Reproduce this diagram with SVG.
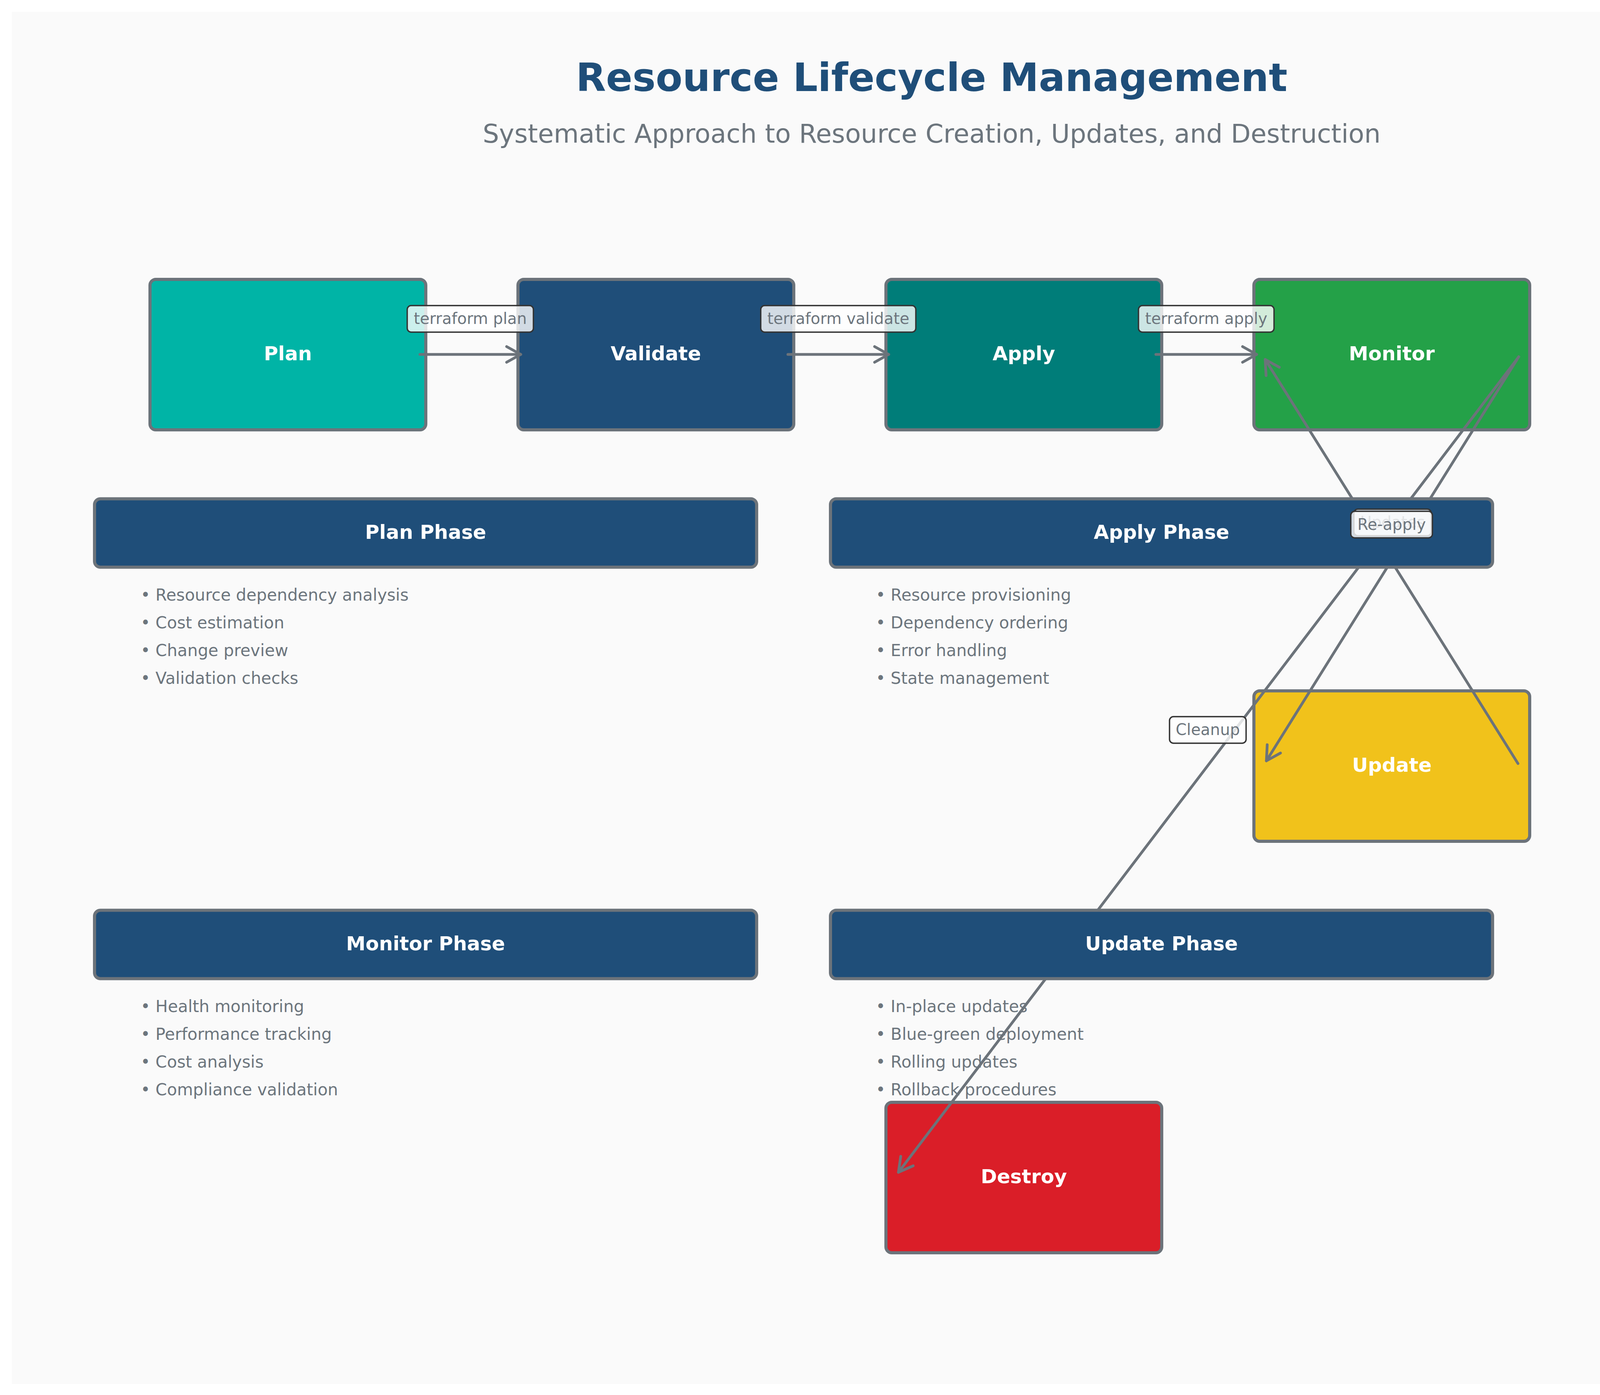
<svg xmlns="http://www.w3.org/2000/svg" width="4770" height="3570" viewBox="0 0 4770 3570">
<style>
text{font-family:"DejaVu Sans","Liberation Sans",sans-serif}
.title{font-size:100px;font-weight:bold;fill:#1f4e79;text-anchor:middle}
.sub{font-size:66px;fill:#6c757d;text-anchor:middle}
.node rect{stroke:#6c737a;stroke-width:8}
.nlabel{font-size:50px;font-weight:bold;fill:#ffffff;text-anchor:middle}
.phase rect{fill:#1f4e79;stroke:#6c737a;stroke-width:8}
.bullet{font-size:42px;fill:#6c757d}
.edge{fill:none;stroke:#6c737a;stroke-width:7;stroke-linecap:round}
.lbox{fill:#ffffff;fill-opacity:0.8;stroke:#333333;stroke-width:3.5}
.ltext{font-size:40px;fill:#6c757d;text-anchor:middle}
.brand{font-size:50px;font-weight:bold;fill:#1f4e79}
</style>
<defs>
<marker id="arrow" viewBox="0 0 48 48" refX="40" refY="24" markerWidth="48" markerHeight="48" markerUnits="userSpaceOnUse" orient="auto">
<path d="M4,4 L40,24 L4,44" fill="none" stroke="#6c737a" stroke-width="7" stroke-linecap="round" stroke-linejoin="round"/>
</marker>
</defs>
<rect x="0" y="0" width="4770" height="3570" fill="#ffffff"/>
<rect x="30" y="30" width="4710" height="3512" fill="#fafafa"/>
<text class="title" x="2385" y="233">Resource Lifecycle Management</text>
<text class="sub" x="2385" y="365">Systematic Approach to Resource Creation, Updates, and Destruction</text>

<g id="node-plan" class="node"><rect x="384" y="715" width="706" height="385" rx="15" fill="#00b4a6"/><text class="nlabel" x="737" y="922">Plan</text></g>
<g id="node-validate" class="node"><rect x="1326" y="715" width="706" height="385" rx="15" fill="#1f4e79"/><text class="nlabel" x="1679" y="922">Validate</text></g>
<g id="node-apply" class="node"><rect x="2268" y="715" width="706" height="385" rx="15" fill="#007d79"/><text class="nlabel" x="2621" y="922">Apply</text></g>
<g id="node-monitor" class="node"><rect x="3210" y="715" width="706" height="385" rx="15" fill="#24a148"/><text class="nlabel" x="3563" y="922">Monitor</text></g>
<g id="node-update" class="node"><rect x="3210" y="1768" width="706" height="385" rx="15" fill="#f1c21b"/><text class="nlabel" x="3563" y="1975">Update</text></g>
<g id="node-destroy" class="node"><rect x="2268" y="2821" width="706" height="385" rx="15" fill="#da1e28"/><text class="nlabel" x="2621" y="3028">Destroy</text></g>

<g id="connectors">
<path class="edge" d="M1075,907 L1333,907" marker-end="url(#arrow)"/>
<path class="edge" d="M2017,907 L2275,907" marker-end="url(#arrow)"/>
<path class="edge" d="M2959,907 L3217,907" marker-end="url(#arrow)"/>
<path class="edge" d="M3888,913 L3242,1947" marker-end="url(#arrow)"/>
<path class="edge" d="M3886,1954 L3239,920" marker-end="url(#arrow)"/>
<path class="edge" d="M3888,913 L2300,3000" marker-end="url(#arrow)"/>
</g>

<g id="phase-plan" class="phase">
<rect x="242" y="1276.5" width="1695" height="175" rx="15"/>
<text class="nlabel" x="1089.5" y="1378.5">Plan Phase</text>
<text class="bullet" x="360" y="1537">• Resource dependency analysis</text>
<text class="bullet" x="360" y="1608">• Cost estimation</text>
<text class="bullet" x="360" y="1679">• Change preview</text>
<text class="bullet" x="360" y="1750">• Validation checks</text>
</g>
<g id="phase-apply" class="phase">
<rect x="2126" y="1276.5" width="1695" height="175" rx="15"/>
<text class="nlabel" x="2973.5" y="1378.5">Apply Phase</text>
<text class="bullet" x="2242" y="1537">• Resource provisioning</text>
<text class="bullet" x="2242" y="1608">• Dependency ordering</text>
<text class="bullet" x="2242" y="1679">• Error handling</text>
<text class="bullet" x="2242" y="1750">• State management</text>
</g>
<g id="phase-monitor" class="phase">
<rect x="242" y="2329.5" width="1695" height="175" rx="15"/>
<text class="nlabel" x="1089.5" y="2431.5">Monitor Phase</text>
<text class="bullet" x="360" y="2590">• Health monitoring</text>
<text class="bullet" x="360" y="2661">• Performance tracking</text>
<text class="bullet" x="360" y="2732">• Cost analysis</text>
<text class="bullet" x="360" y="2803">• Compliance validation</text>
</g>
<g id="phase-update" class="phase">
<rect x="2126" y="2329.5" width="1695" height="175" rx="15"/>
<text class="nlabel" x="2973.5" y="2431.5">Update Phase</text>
<text class="bullet" x="2242" y="2590">• In-place updates</text>
<text class="bullet" x="2242" y="2661">• Blue-green deployment</text>
<text class="bullet" x="2242" y="2732">• Rolling updates</text>
<text class="bullet" x="2242" y="2803">• Rollback procedures</text>
</g>

<g id="edge-labels">
<rect class="lbox" x="1042.5" y="782" width="323" height="68" rx="10"/><text class="ltext" x="1204" y="829">terraform plan</text>
<rect class="lbox" x="1947.5" y="782" width="397" height="68" rx="10"/><text class="ltext" x="2146" y="829">terraform validate</text>
<rect class="lbox" x="2914.5" y="782" width="347" height="68" rx="10"/><text class="ltext" x="3088" y="829">terraform apply</text>
<rect class="lbox" x="3466" y="1303" width="198" height="68" rx="10"/><text class="ltext" x="3565" y="1350">Updates</text>
<rect class="lbox" x="3458" y="1308.5" width="209" height="68" rx="10"/><text class="ltext" x="3562.5" y="1355.5">Re-apply</text>
<rect class="lbox" x="2994" y="1834" width="196" height="68" rx="10"/><text class="ltext" x="3092" y="1881">Cleanup</text>
</g>

<text class="brand" x="4220" y="3462">IBM Cloud</text>
</svg>
